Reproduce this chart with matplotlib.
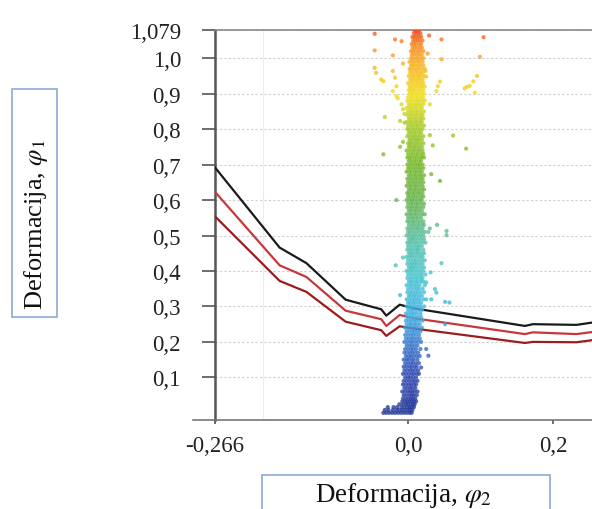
import numpy as np
import matplotlib.pyplot as plt
from matplotlib.colors import LinearSegmentedColormap
from matplotlib.patches import Rectangle
from matplotlib.ticker import FixedLocator

plt.rcParams['font.family'] = ['Liberation Serif', 'DejaVu Serif']
plt.rcParams['mathtext.fontset'] = 'stix'

# forming limit curves (phi2, phi1)
flc_phi2 = [-0.266, -0.177, -0.140, -0.086, -0.037, -0.030, -0.0115, 0.007, 0.161, 0.172, 0.232, 0.262]
flc_black = [0.692, 0.466, 0.422, 0.319, 0.292, 0.274, 0.305, 0.295, 0.245, 0.250, 0.248, 0.257]
flc_red = [0.623, 0.416, 0.383, 0.288, 0.264, 0.245, 0.276, 0.267, 0.222, 0.227, 0.222, 0.230]
flc_darkred = [0.554, 0.372, 0.341, 0.257, 0.233, 0.217, 0.244, 0.238, 0.197, 0.200, 0.199, 0.207]

# measured points: phi1 levels of the main band, phi2 values (x 1e-3) at each level
band_phi1 = [0.000, 0.008, 0.016, 0.024, 0.032, 0.040, 0.050, 0.060, 0.070, 0.080,
             0.090, 0.100, 0.110, 0.120, 0.130, 0.140, 0.150, 0.160, 0.170, 0.180,
             0.190, 0.200, 0.210, 0.220, 0.230, 0.240, 0.250, 0.260, 0.270, 0.280,
             0.290, 0.300, 0.310, 0.320, 0.330, 0.340, 0.350, 0.360, 0.370, 0.380,
             0.390, 0.400, 0.410, 0.420, 0.430, 0.440, 0.450, 0.460, 0.470, 0.480,
             0.490, 0.500, 0.510, 0.520, 0.530, 0.540, 0.550, 0.560, 0.570, 0.580,
             0.590, 0.600, 0.610, 0.620, 0.630, 0.640, 0.650, 0.660, 0.670, 0.680,
             0.690, 0.700, 0.710, 0.720, 0.730, 0.740, 0.750, 0.760, 0.770, 0.780,
             0.790, 0.800, 0.810, 0.820, 0.830, 0.840, 0.850, 0.860, 0.870, 0.880,
             0.890, 0.900, 0.910, 0.920, 0.930, 0.940, 0.950, 0.960, 0.970, 0.980,
             0.990, 1.000, 1.010, 1.020, 1.030, 1.040, 1.050, 1.060, 1.070, 1.078]
band_phi2 = [
    [-34, -30, -26, -22, -18, -14, -10, -6, -2, 2, 5],
    [-32, -27, -21, -16, -12, -8, -4, 0, 3, 6],
    [-28, -20, -15, -9, -5, -1, 2, 5, 8],
    [-12, -7, -3, 0, 4, 7, 9],
    [-8, -4, -1, 2, 5, 8, 11],
    [-7, -3, 1, 4, 7, 10],
    [-6, -2, 2, 5, 8, 12],
    [-8, -4, 0, 3, 6, 9, 13],
    [-5, -1, 3, 6, 10],
    [-7, -3, 1, 4, 8, 11],
    [-6, -2, 2, 6, 9, 13],
    [-4, 0, 3, 7, 11],
    [-7, -3, 1, 5, 8, 12, 15],
    [-5, -1, 3, 6, 10, 14],
    [-6, -2, 2, 5, 9, 12],
    [-4, 0, 4, 7, 11, 15],
    [-6, -2, 1, 5, 8, 13],
    [-3, 1, 4, 8, 12, 16],
    [-5, -1, 3, 6, 10, 14],
    [-4, 0, 4, 7, 11, 17],
    [-2, 2, 5, 9, 13],
    [-5, -1, 3, 6, 10, 14, 18],
    [-3, 1, 5, 8, 12, 16],
    [-4, 0, 4, 7, 11, 15],
    [-2, 2, 6, 9, 13, 17],
    [-4, 0, 3, 7, 10, 14, 19],
    [-2, 2, 5, 9, 12, 16],
    [-3, 1, 4, 8, 11, 15, 20],
    [-1, 3, 6, 10, 14, 18],
    [-3, 1, 5, 8, 12, 17],
    [0, 4, 7, 11, 15, 19],
    [-2, 2, 5, 9, 13, 17, 22],
    [0, 3, 7, 10, 14, 18],
    [-2, 2, 6, 9, 13, 16, 21],
    [1, 4, 8, 11, 15, 19],
    [-1, 3, 6, 10, 13, 17, 22],
    [0, 4, 8, 12, 15, 20],
    [-2, 2, 5, 9, 12, 16, 23],
    [1, 4, 7, 11, 14, 18, 21],
    [-1, 3, 6, 10, 13, 17, 20],
    [0, 4, 8, 12, 16, 19, 24],
    [-2, 2, 5, 9, 13, 17, 21],
    [1, 4, 7, 10, 14, 18, 22],
    [-1, 3, 6, 9, 12, 16, 20],
    [0, 4, 8, 11, 15, 19, 23],
    [-2, 2, 5, 9, 13, 17, 20],
    [1, 4, 7, 11, 14, 18, 22],
    [-1, 3, 6, 10, 13, 16, 21],
    [0, 4, 8, 12, 15, 19],
    [-1, 2, 5, 9, 12, 16, 20, 24],
    [1, 4, 7, 10, 14, 18, 22],
    [-2, 2, 6, 9, 13, 17, 21],
    [0, 3, 7, 11, 15, 19, 23],
    [-1, 3, 6, 10, 13, 16, 20],
    [1, 5, 8, 12, 15, 19, 22],
    [-1, 2, 6, 9, 13, 17, 21],
    [0, 4, 7, 11, 14, 18],
    [-2, 2, 5, 9, 12, 16, 20, 23],
    [1, 4, 8, 11, 15, 19],
    [-1, 3, 6, 10, 13, 17, 21],
    [0, 4, 7, 11, 14, 18, 22],
    [-2, 2, 5, 8, 12, 16, 19],
    [0, 3, 7, 10, 14, 18, 21],
    [-1, 2, 6, 9, 13, 16, 20],
    [1, 4, 8, 11, 15, 19, 22],
    [-2, 2, 5, 9, 12, 16, 20],
    [0, 3, 7, 10, 14, 17, 21],
    [-1, 3, 6, 10, 13, 17, 20],
    [1, 4, 8, 11, 15, 18, 22],
    [-2, 2, 5, 9, 12, 16, 19],
    [0, 3, 7, 10, 14, 17, 21],
    [-1, 3, 6, 10, 13, 16, 20],
    [1, 4, 8, 11, 15, 18],
    [-1, 2, 5, 9, 12, 16, 19, 22],
    [0, 4, 7, 11, 14, 18, 21],
    [-2, 2, 6, 9, 13, 16, 20],
    [1, 4, 8, 11, 15, 19],
    [0, 3, 6, 10, 13, 17, 21],
    [2, 5, 9, 12, 15, 19],
    [-1, 3, 7, 10, 14, 17, 21],
    [1, 4, 8, 11, 15, 18],
    [-1, 2, 6, 9, 13, 16, 20],
    [0, 4, 7, 11, 14, 18, 22],
    [-2, 2, 5, 9, 12, 16, 19],
    [1, 4, 8, 11, 15, 18, 21],
    [-1, 3, 6, 10, 13, 17, 20],
    [0, 4, 7, 11, 14, 18, 22],
    [-2, 2, 5, 9, 12, 16, 19],
    [1, 4, 8, 11, 14, 17, 21],
    [-1, 3, 6, 10, 13, 16, 20, 23],
    [0, 4, 7, 11, 14, 18, 21],
    [2, 5, 8, 12, 15, 19, 22],
    [1, 4, 7, 10, 14, 17, 21],
    [2, 5, 9, 12, 16, 19, 23],
    [0, 4, 7, 11, 14, 18, 21],
    [3, 6, 9, 13, 16, 20],
    [1, 5, 8, 12, 15, 18, 22],
    [3, 6, 10, 13, 17, 20],
    [2, 5, 9, 12, 15, 19, 23],
    [4, 7, 10, 14, 17, 21],
    [2, 6, 9, 13, 16, 20],
    [4, 7, 11, 14, 18, 21],
    [5, 8, 12, 15, 19],
    [4, 7, 10, 14, 17, 21],
    [6, 9, 12, 16, 19],
    [5, 8, 11, 15, 18],
    [7, 10, 13, 16, 20],
    [6, 9, 12, 15, 18],
    [8, 11, 14, 17],
    [9, 12, 15],
]

# scattered points away from the band
outlier_phi2 = [-0.046, -0.018, -0.009, 0.029, 0.046, 0.104, -0.046, -0.021, -0.007, 0.027,
                0.046, 0.099, -0.046, -0.044, -0.037, -0.034, -0.021, -0.018, 0.024, 0.025,
                0.044, 0.041, 0.039, 0.078, 0.081, 0.085, 0.090, 0.095, 0.092, -0.016,
                -0.021, -0.016, -0.014, -0.009, -0.007, -0.005, -0.032, -0.011, 0.030, -0.005,
                0.062, 0.030, 0.080, 0.034, -0.011, -0.007, -0.034, 0.032, 0.044, -0.016,
                0.040, 0.053, 0.053, 0.030, 0.028, -0.007, -0.017, 0.046, 0.031, 0.025,
                0.037, 0.039, -0.011, 0.051, 0.057, 0.025, 0.032, 0.051, 0.025, 0.028, 0.018]
outlier_phi1 = [1.069, 1.053, 1.048, 1.064, 1.053, 1.059, 1.022, 1.008, 0.985, 1.013,
                0.997, 1.004, 0.973, 0.959, 0.940, 0.935, 0.964, 0.945, 0.964, 0.948,
                0.934, 0.921, 0.907, 0.915, 0.919, 0.922, 0.935, 0.950, 0.903, 0.921,
                0.907, 0.893, 0.887, 0.870, 0.856, 0.843, 0.834, 0.823, 0.870, 0.818,
                0.782, 0.783, 0.745, 0.754, 0.750, 0.764, 0.729, 0.673, 0.654, 0.600,
                0.530, 0.513, 0.501, 0.520, 0.510, 0.438, 0.416, 0.422, 0.396, 0.368,
                0.349, 0.339, 0.332, 0.313, 0.311, 0.320, 0.320, 0.250, 0.180, 0.161, 0.128]

y_ticks = [0.1, 0.2, 0.3, 0.4, 0.5, 0.6, 0.7, 0.8, 0.9, 1.0, 1.079]
y_labels = ['0,1', '0,2', '0,3', '0,4', '0,5', '0,6', '0,7', '0,8', '0,9', '1,0', '1,079']
x_ticks = [-0.266, 0.0, 0.2]
x_labels = ['-0,266', '0,0', '0,2']

cmap = LinearSegmentedColormap.from_list('flc', [
    (0.00, '#283c9c'), (0.10, '#3048b0'), (0.18, '#3a78cc'), (0.25, '#40b0e4'),
    (0.35, '#48c4d0'), (0.45, '#58c0a8'), (0.55, '#68b450'), (0.65, '#78b830'),
    (0.75, '#a8cc28'), (0.83, '#f0e020'), (0.91, '#f8b424'), (0.96, '#f89028'),
    (1.00, '#f05020')])

pts_x, pts_y = [], []
for lvl, row in zip(band_phi1, band_phi2):
    for v in row:
        pts_x.append(v / 1000)
        pts_y.append(lvl)
pts_x = np.array(pts_x + outlier_phi2)
pts_y = np.array(pts_y + outlier_phi1)

fig = plt.figure(figsize=(5.92, 5.10), dpi=100)
ax = fig.add_axes([215 / 592, 89.3 / 510, 383 / 592, 389.5 / 510])

ax.plot(flc_phi2, flc_black, color='#1a1a1a', lw=1.6, zorder=3)
ax.plot(flc_phi2, flc_red, color='#c8383a', lw=1.6, zorder=3)
ax.plot(flc_phi2, flc_darkred, color='#9c1c1c', lw=1.6, zorder=3)
ax.scatter(pts_x, pts_y, c=pts_y, cmap=cmap, vmin=0, vmax=1.079,
           s=9, linewidths=0, alpha=0.8, zorder=4)

ax.set_xlim(-0.266, 0.2617)
ax.set_ylim(-0.0194, 1.079)

ax.set_yticks(y_ticks)
ax.set_yticklabels(y_labels, fontsize=16.5, color='#222222')
ax.set_xticks(x_ticks)
ax.set_xticklabels(x_labels, fontsize=16.5, color='#222222')
ax.xaxis.set_minor_locator(FixedLocator([-0.2, 0.0, 0.2]))
ax.tick_params(axis='y', direction='out', length=9.5, width=1.2, color='#555555', pad=15)
ax.tick_params(axis='x', which='major', direction='out', length=3, width=1.2,
               color='#555555', pad=8)
ax.tick_params(axis='x', which='minor', length=0)

ax.grid(axis='y', which='major', color='#cfcfcf', ls=(0, (2, 2)), lw=0.8)
ax.grid(axis='x', which='minor', color='#ececec', ls='-', lw=0.8)
ax.grid(axis='x', which='major', visible=False)
ax.set_axisbelow(True)

ax.spines['left'].set_color('#555555')
ax.spines['left'].set_linewidth(1.8)
ax.spines['bottom'].set_color('#777777')
ax.spines['bottom'].set_linewidth(1.2)
ax.spines['top'].set_color('#8a8a8a')
ax.spines['top'].set_linewidth(1.2)
ax.spines['right'].set_visible(False)
ax.plot([-0.058, 0], [0, 0], transform=ax.transAxes, color='#777777', lw=1.2, clip_on=False)

# boxed axis titles
fig.patches.append(Rectangle((12.3 / 592, 192 / 510), 45 / 592, 228 / 510,
                             transform=fig.transFigure, fill=False,
                             edgecolor='#8eaad6', lw=1.2))
fig.text(36 / 592, 285 / 510, r'Deformacija, $\varphi_1$', rotation=90,
         ha='center', va='center', fontsize=19, color='#111111')
fig.patches.append(Rectangle((262.3 / 592, -0.05), 287.7 / 592, 0.05 + 34.3 / 510,
                             transform=fig.transFigure, fill=False,
                             edgecolor='#8eaad6', lw=1.2))
fig.text(404 / 592, 8 / 510, r'Deformacija, $\varphi_2$', ha='center', va='baseline',
         fontsize=19.5, color='#111111')

fig.savefig('out.png', dpi=100)
